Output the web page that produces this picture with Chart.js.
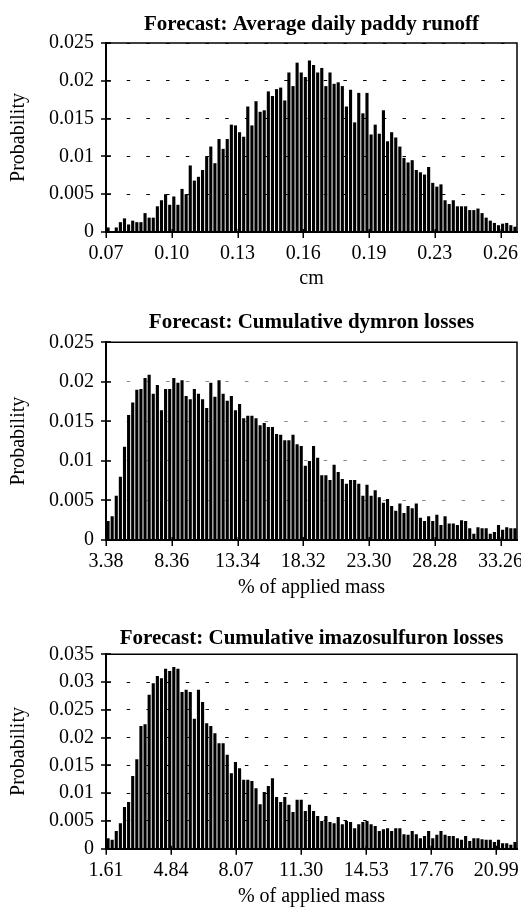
<!DOCTYPE html>
<html><head><meta charset="utf-8">
<script src="https://cdn.jsdelivr.net/npm/chart.js@4.4.0/dist/chart.umd.min.js"></script>
<style>
html,body{margin:0;padding:0;background:#fff;}
#wrap{position:relative;width:521px;height:910px;overflow:hidden;}
canvas{position:absolute;left:0;}
</style></head><body>
<div id="wrap">
<canvas id="c1" width="521" height="300" style="top:0px"></canvas>
<canvas id="c2" width="521" height="305" style="top:300px"></canvas>
<canvas id="c3" width="521" height="305" style="top:605px"></canvas>
</div>
<script>
// ---------- data ----------
const chartTitles = ['Forecast: Average daily paddy runoff', 'Forecast: Cumulative dymron losses', 'Forecast: Cumulative imazosulfuron losses'];
const xAxisTitles = ['cm', '% of applied mass', '% of applied mass'];
const yAxisTitle = 'Probability';
const xTickLabels1 = ['0.07','0.10','0.13','0.16','0.19','0.23','0.26'];
const xTickLabels2 = ['3.38','8.36','13.34','18.32','23.30','28.28','33.26'];
const xTickLabels3 = ['1.61','4.84','8.07','11.30','14.53','17.76','20.99'];
const yMaxValues = [0.025, 0.025, 0.035];
const yStep = 0.005;

const runoffProb = [
0.0006,0.0001,0.0006,0.0013,0.0018,0.0010,0.0015,0.0013,0.0013,0.0025,
0.0019,0.0019,0.0034,0.0042,0.0050,0.0036,0.0047,0.0036,0.0057,0.0050,
0.0088,0.0068,0.0073,0.0082,0.0100,0.0113,0.0091,0.0123,0.0110,0.0123,
0.0142,0.0141,0.0132,0.0126,0.0166,0.0141,0.0173,0.0159,0.0161,0.0186,
0.0180,0.0189,0.0191,0.0174,0.0211,0.0193,0.0224,0.0211,0.0205,0.0227,
0.0221,0.0211,0.0217,0.0193,0.0211,0.0196,0.0198,0.0193,0.0166,0.0188,
0.0145,0.0184,0.0157,0.0184,0.0129,0.0142,0.0130,0.0161,0.0120,0.0132,
0.0125,0.0113,0.0098,0.0092,0.0095,0.0082,0.0079,0.0076,0.0086,0.0065,
0.0060,0.0063,0.0042,0.0037,0.0042,0.0034,0.0034,0.0034,0.0029,0.0029,
0.0031,0.0025,0.0019,0.0015,0.0012,0.0009,0.0011,0.0012,0.0009,0.0007];

const dymronProb = [
0.0024,0.0030,0.0056,0.0080,0.0118,0.0158,0.0174,0.0190,0.0191,0.0205,
0.0209,0.0185,0.0196,0.0164,0.0191,0.0191,0.0205,0.0199,0.0202,0.0182,
0.0178,0.0191,0.0185,0.0178,0.0167,0.0199,0.0181,0.0202,0.0185,0.0176,
0.0182,0.0164,0.0172,0.0154,0.0157,0.0157,0.0154,0.0145,0.0148,0.0143,
0.0143,0.0134,0.0133,0.0126,0.0126,0.0133,0.0121,0.0119,0.0094,0.0100,
0.0119,0.0104,0.0082,0.0082,0.0076,0.0095,0.0086,0.0077,0.0071,0.0076,
0.0076,0.0071,0.0056,0.0070,0.0056,0.0063,0.0054,0.0047,0.0052,0.0043,
0.0037,0.0046,0.0034,0.0043,0.0040,0.0046,0.0028,0.0024,0.0030,0.0024,
0.0032,0.0019,0.0030,0.0021,0.0021,0.0019,0.0025,0.0024,0.0015,0.0008,
0.0016,0.0015,0.0015,0.0008,0.0010,0.0019,0.0013,0.0016,0.0015,0.0015];

const imazoProb = [
0.0019,0.0016,0.0032,0.0046,0.0075,0.0084,0.0131,0.0161,0.0221,0.0224,
0.0277,0.0298,0.0311,0.0307,0.0324,0.0320,0.0327,0.0324,0.0282,0.0286,
0.0282,0.0234,0.0286,0.0264,0.0226,0.0221,0.0208,0.0190,0.0190,0.0169,
0.0136,0.0156,0.0145,0.0124,0.0124,0.0122,0.0109,0.0080,0.0102,0.0113,
0.0127,0.0093,0.0084,0.0093,0.0079,0.0066,0.0088,0.0088,0.0068,0.0079,
0.0068,0.0059,0.0050,0.0059,0.0048,0.0046,0.0057,0.0044,0.0050,0.0048,
0.0037,0.0044,0.0048,0.0050,0.0044,0.0041,0.0032,0.0035,0.0037,0.0032,
0.0037,0.0037,0.0026,0.0025,0.0032,0.0026,0.0019,0.0023,0.0032,0.0019,
0.0025,0.0032,0.0025,0.0023,0.0023,0.0019,0.0016,0.0023,0.0014,0.0019,
0.0019,0.0017,0.0016,0.0016,0.0012,0.0016,0.0010,0.0010,0.0007,0.0012];

// ---------- layout (pixels, per canvas) ----------
const panels = [
  {id:'c1', h:300, top:43,   bottom:232,   titleY:24.7, xLabY:254, xTitleY:279, tickStep:16,    grid:'#000', values:runoffProb, xTicks:xTickLabels1},
  {id:'c2', h:305, top:42.3, bottom:240,   titleY:22.7, xLabY:262, xTitleY:288, tickStep:16,    grid:'#8a8a8a', values:dymronProb, xTicks:xTickLabels2},
  {id:'c3', h:305, top:49.3, bottom:243.7, titleY:34,   xLabY:266, xTitleY:292, tickStep:15.83, grid:'#000', values:imazoProb, xTicks:xTickLabels3}
];
const AREA_LEFT = 106, AREA_RIGHT = 517, W = 521;
const FONT = "'Liberation Serif', 'Times New Roman', serif";
const TICK_SIZE = 20, TITLE_SIZE = 21, LH = 1.2;

const framePlugin = {
  id: 'frame',
  afterDatasetsDraw(chart) {
    const {ctx, chartArea: a, scales: {x, y}} = chart;
    ctx.save();
    ctx.strokeStyle = '#000';
    ctx.lineWidth = 1.5;
    ctx.beginPath();
    ctx.moveTo(a.left, a.top); ctx.lineTo(a.right, a.top); ctx.lineTo(a.right, a.bottom);
    ctx.stroke();
    ctx.lineWidth = 1.5;
    ctx.beginPath();
    x.ticks.forEach(t => { const px = Math.round(x.getPixelForValue(t.value)) + 0.25; ctx.moveTo(px, a.bottom - 3); ctx.lineTo(px, a.bottom + 6); });
    y.ticks.forEach(t => { const py = Math.round(y.getPixelForValue(t.value)); ctx.moveTo(a.left - 5, py); ctx.lineTo(a.left + 5, py); });
    ctx.stroke();
    ctx.restore();
  }
};

panels.forEach((p, k) => {
  const tlh = TITLE_SIZE * LH, lh = TICK_SIZE * LH;
  const titlePadTop = p.titleY - tlh / 2;
  const titlePadBottom = p.top - titlePadTop - tlh;
  const n = p.values.length;
  new Chart(document.getElementById(p.id), {
    type: 'bar',
    data: {
      datasets: [{
        data: p.values.map((v, i) => ({x: i + 0.5, y: v})),
        backgroundColor: '#000',
        borderWidth: 0,
        barPercentage: 0.76,
        categoryPercentage: 1
      }]
    },
    plugins: [framePlugin],
    options: {
      responsive: false,
      animation: false,
      devicePixelRatio: 1,
      layout: {autoPadding: false, padding: {left: 0, right: W - AREA_RIGHT, top: 0, bottom: 0}},
      plugins: {
        legend: {display: false},
        tooltip: {enabled: false},
        title: {
          display: true, text: chartTitles[k], color: '#000', fullSize: false,
          font: {family: FONT, size: TITLE_SIZE, weight: 'bold', lineHeight: LH},
          padding: {top: titlePadTop, bottom: titlePadBottom}
        }
      },
      scales: {
        x: {
          type: 'linear', min: 0, max: n, offset: false,
          grid: {display: false, drawTicks: false},
          border: {display: true, color: '#000', width: 2},
          afterBuildTicks: s => { s.ticks = p.xTicks.map((_, j) => ({value: j * p.tickStep})); },
          afterFit: s => { s.height = p.h - p.bottom; s.paddingLeft = 0; s.paddingRight = 0; },
          ticks: {
            autoSkip: false, maxRotation: 0, minRotation: 0, color: '#000',
            padding: p.xLabY - p.bottom - lh / 2,
            font: {family: FONT, size: TICK_SIZE, lineHeight: LH},
            callback: (v, j) => p.xTicks[j]
          },
          title: {
            display: true, text: xAxisTitles[k], color: '#000',
            font: {family: FONT, size: TICK_SIZE, lineHeight: LH},
            padding: {top: 0, bottom: p.h - p.xTitleY - lh / 2}
          }
        },
        y: {
          min: 0, max: yMaxValues[k],
          grid: {display: true, color: p.grid, lineWidth: 1, drawTicks: false},
          border: {display: true, color: '#000', width: 2, dash: [3.5, 16.2], dashOffset: 0},
          afterFit: s => { s.width = AREA_LEFT; s.paddingTop = 0; s.paddingBottom = 0; },
          ticks: {
            stepSize: yStep, color: '#000', padding: 12,
            font: {family: FONT, size: TICK_SIZE, lineHeight: LH},
            callback: v => String(Number(v.toFixed(4)))
          },
          title: {
            display: true, text: yAxisTitle, color: '#000',
            font: {family: FONT, size: TICK_SIZE, lineHeight: LH},
            padding: {top: 18.5 - lh / 2, bottom: 0}
          }
        }
      }
    }
  });
});
</script>
</body></html>
